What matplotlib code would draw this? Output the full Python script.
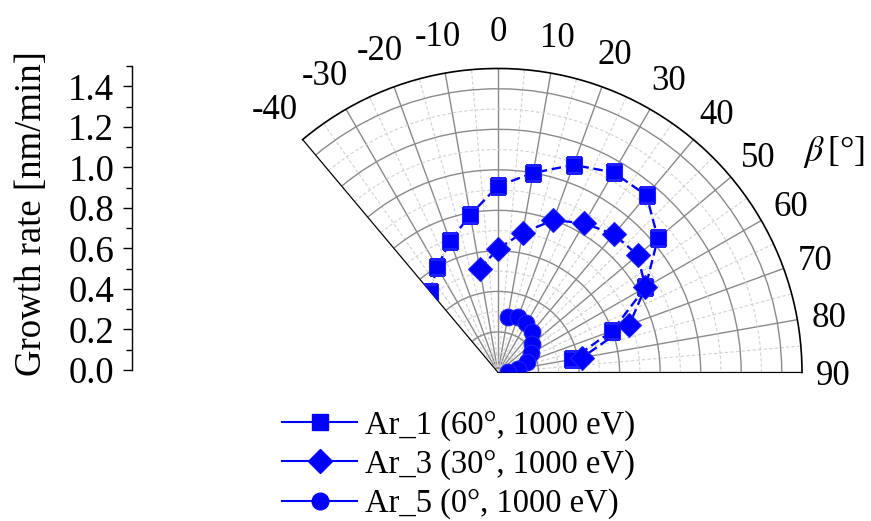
import numpy as np
import matplotlib
matplotlib.use("Agg")
import matplotlib.pyplot as plt
from matplotlib.lines import Line2D
from matplotlib.ticker import MultipleLocator, FormatStrFormatter

plt.rcParams['font.family'] = ['Liberation Serif', 'DejaVu Serif']
plt.rcParams['mathtext.fontset'] = 'stix'

# ---------------- data ----------------
theta_ar1 = [-40, -30, -20, -10, 0, 10, 20, 30, 40, 50, 60, 70, 80]
r_ar1 = [0.52, 0.60, 0.69, 0.79, 0.92, 1.00, 1.09, 1.14, 1.14, 1.03, 0.84, 0.60, 0.37]

theta_ar3 = [-10, 0, 10, 20, 30, 40, 50, 60, 70, 80]
r_ar3 = [0.52, 0.61, 0.70, 0.80, 0.85, 0.89, 0.90, 0.84, 0.69, 0.42]

theta_ar5 = [10, 20, 30, 40, 50, 60, 70, 80, 90]
r_ar5 = [0.28, 0.29, 0.28, 0.26, 0.22, 0.19, 0.15, 0.10, 0.05]

labels = ["Ar_1 (60°, 1000 eV)", "Ar_3 (30°, 1000 eV)", "Ar_5 (0°, 1000 eV)"]
markers = ['s', 'D', 'o']
theta_ticks = list(range(-40, 91, 10))
r_ticks = [0.0, 0.2, 0.4, 0.6, 0.8, 1.0, 1.2, 1.4]
r_max = 1.5

W, H = 871, 521
fig = plt.figure(figsize=(W / 100, H / 100), dpi=100)

# polar wedge geometry (pixels): centre and outer radius
cx, cy, R = 498.0, 370.0, 304.0
left_px = cx - R * np.sin(np.deg2rad(40))
side = cx + R - left_px               # wedge width; matplotlib pads wedge bbox to a square
ymid = cy - R / 2
ax = fig.add_axes([left_px / W, 1 - (ymid + side / 2) / H, side / W, side / H],
                  projection='polar')
ax.set_theta_zero_location('N')
ax.set_theta_direction(-1)
ax.set_thetamin(-40)
ax.set_thetamax(90)
ax.set_rlim(0, r_max)

ax.set_xticks(np.deg2rad(theta_ticks))
ax.set_xticklabels([])
ax.set_xticks(np.deg2rad(np.arange(-35, 90, 10)), minor=True)
ax.set_yticks(r_ticks[1:])
ax.set_yticklabels([])
ax.set_yticks(np.arange(0.1, 1.5, 0.2), minor=True)

# angular tick labels placed just outside the outer arc
for t in theta_ticks:
    r_lab = r_max * (1.142 - 0.038 * (t + 40) / 130)
    ax.text(np.deg2rad(t), r_lab, str(t), fontsize=25, ha='center',
            va='center_baseline', clip_on=False)

ax.grid(True, which='major', color='#8a8a8a', lw=1.0, ls='-')
ax.grid(True, which='minor', color='#d2d2d2', lw=0.8, ls=(0, (3, 2)))
ax.tick_params(axis='x', which='major', direction='in', length=6.5, width=1.0,
               color='black')
ax.tick_params(axis='x', which='minor', direction='in', length=4, width=1.0,
               color='black')
ax.tick_params(axis='y', which='both', length=0)
ax.spines['polar'].set_color('black')
ax.spines['polar'].set_linewidth(1.2)
ax.spines['start'].set_visible(False)
ax.spines['end'].set_visible(False)
ax.spines['inner'].set_visible(False)

handles = []
for th, rr, mk, lab in zip([theta_ar1, theta_ar3, theta_ar5],
                           [r_ar1, r_ar3, r_ar5], markers, labels):
    ax.plot(np.deg2rad(th), rr, color='#0000ff', lw=1.7, ls=(0, (4, 2)),
            marker=mk, markersize=12, markeredgewidth=0.8,
            markeredgecolor='#2020ff', markerfacecolor='#0000ff', zorder=5)
    handles.append(Line2D([], [], color='#0000ff', lw=1.5, marker=mk,
                          markersize=12, markerfacecolor='#0000ff',
                          markeredgecolor='#0000ff', label=lab))

fig.text(834 / W, 1 - 152 / H, r"$\beta\,$[°]", fontsize=26,
         ha='center', va='center')

# left linear growth-rate axis
ax2 = fig.add_axes([131.5 / W, 1 - cy / H, 0.002, R / H])
ax2.set_ylim(0, r_max)
ax2.set_yticks(r_ticks)
ax2.yaxis.set_major_formatter(FormatStrFormatter('%.1f'))
ax2.yaxis.set_minor_locator(MultipleLocator(0.1))
ax2.set_xticks([])
for s in ['top', 'right', 'bottom']:
    ax2.spines[s].set_visible(False)
ax2.spines['left'].set_linewidth(1.0)
ax2.patch.set_visible(False)
ax2.tick_params(axis='y', which='major', direction='out', length=6.5, width=1.0,
                labelsize=26.5, pad=6)
ax2.tick_params(axis='y', which='minor', direction='out', length=4, width=1.0)
ax2.set_ylabel("Growth rate [nm/min]", fontsize=26.5)
ax2.yaxis.set_label_coords(49 / W, 1 - 213.5 / H, transform=fig.transFigure)

fig.legend(handles=handles, loc='upper left',
           bbox_to_anchor=(282 / W, 1 - 410 / H), frameon=False, fontsize=23.5,
           handlelength=2.3, handletextpad=0.25, labelspacing=0.26,
           borderpad=0, borderaxespad=0)

fig.savefig("out.png", dpi=100)
